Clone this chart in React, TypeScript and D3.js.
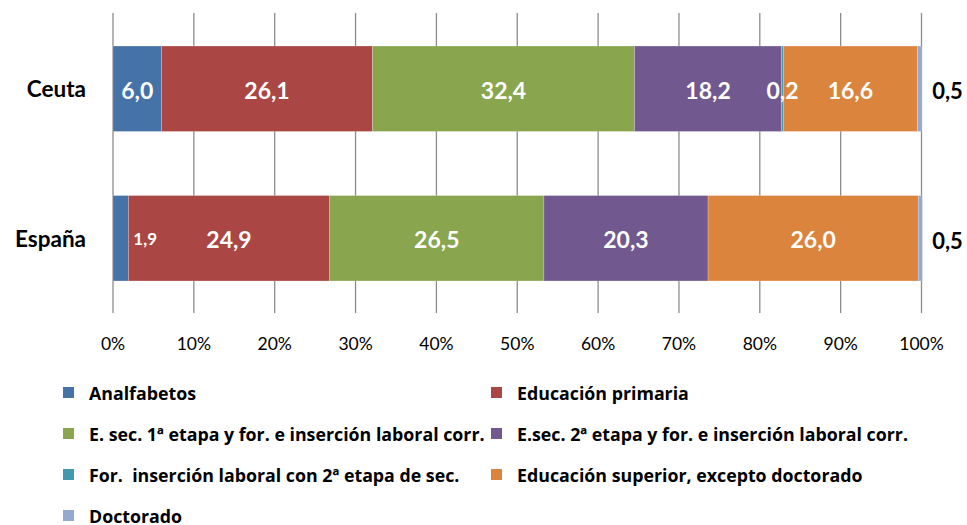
import React from "react";
import * as d3 from "d3";

const categories = ["Ceuta", "España"];
const seriesNames = [
  "Analfabetos",
  "Educación primaria",
  "E. sec. 1ª etapa y for. e inserción laboral corr.",
  "E.sec. 2ª etapa y for. e inserción laboral corr.",
  "For.  inserción laboral con 2ª etapa de sec.",
  "Educación superior, excepto doctorado",
  "Doctorado",
];
const ceutaValues = [6.0, 26.1, 32.4, 18.2, 0.2, 16.6, 0.5];
const espanaValues = [1.9, 24.9, 26.5, 20.3, 0.0, 26.0, 0.5];
const xTicks = [0, 10, 20, 30, 40, 50, 60, 70, 80, 90, 100];
const colors = ["#4572A7", "#AA4643", "#89A54E", "#71588F", "#4198AF", "#DB843D", "#93A9CF"];

const W = 967;
const H = 525;
const FONT = "Lato, 'Open Sans', sans-serif";
const LEGEND_FONT = "'Open Sans', Lato, sans-serif";

const fmt = (v: number) => v.toFixed(1).replace(".", ",");

export default function App() {
  const x = d3.scaleLinear().domain([0, 100]).range([113, 921.5]);
  const y = d3
    .scaleBand<string>()
    .domain(categories)
    .range([14, 313])
    .paddingInner(0.75 / 1.75)
    .paddingOuter(0.375 / 1.75);

  const rows = [ceutaValues, espanaValues];
  const stacked = rows.map((vals) => {
    let acc = 0;
    return vals.map((v, i) => {
      const s = { x0: acc, x1: acc + v, v, i };
      acc += v;
      return s;
    });
  });

  const legendRows = [
    [0, 1],
    [2, 3],
    [4, 5],
    [6],
  ];
  const legendColX = [63, 491];
  const legendY0 = 393;
  const legendDy = 41;

  return (
    <svg
      width={W}
      height={H}
      style={{ position: "absolute", left: 0, top: 0, background: "#fff" }}
      fontFamily={FONT}
    >
      {/* gridlines */}
      {xTicks.map((t) => (
        <line
          key={"g" + t}
          x1={x(t)}
          x2={x(t)}
          y1={13}
          y2={313}
          stroke="#8c8c8c"
          strokeWidth={1.3}
        />
      ))}
      {/* bars */}
      {categories.map((c, ci) => {
        const by = y(c)!;
        const bh = y.bandwidth();
        return (
          <g key={c}>
            {stacked[ci].map((s) =>
              s.v > 0 ? (
                <rect
                  key={s.i}
                  x={x(s.x0)}
                  y={by}
                  width={x(s.x1) - x(s.x0)}
                  height={bh}
                  fill={colors[s.i]}
                  stroke="#ffffff"
                  strokeOpacity={0.35}
                  strokeWidth={0.6}
                />
              ) : null
            )}
          </g>
        );
      })}
      {/* labels */}
      {categories.map((c, ci) => {
        const cy = y(c)! + y.bandwidth() / 2;
        return (
          <g key={"l" + c}>
            <text
              x={86}
              y={cy}
              textAnchor="end"
              dominantBaseline="central"
              fontWeight="bold"
              fontSize={22.5}
              fill="#000"
            >
              {c}
            </text>
            {stacked[ci].map((s) => {
              if (s.v <= 0) return null;
              if (s.i === 6) {
                return (
                  <text
                    key={s.i}
                    x={x(100) + 26}
                    y={cy + 2}
                    textAnchor="middle"
                    dominantBaseline="central"
                    fontWeight="bold"
                    fontSize={22}
                    fill="#000"
                  >
                    {fmt(s.v)}
                  </text>
                );
              }
              const w = x(s.x1) - x(s.x0);
              if (w < 20 && s.i === 0) {
                return (
                  <text
                    key={s.i}
                    x={x(s.x1) + 5}
                    y={cy}
                    textAnchor="start"
                    dominantBaseline="central"
                    fontWeight="bold"
                    fontSize={17}
                    fill="#fff"
                  >
                    {fmt(s.v)}
                  </text>
                );
              }
              return (
                <text
                  key={s.i}
                  x={(x(s.x0) + x(s.x1)) / 2}
                  y={cy + 1}
                  textAnchor="middle"
                  dominantBaseline="central"
                  fontWeight="bold"
                  fontSize={23}
                  fill="#fff"
                >
                  {fmt(s.v)}
                </text>
              );
            })}
          </g>
        );
      })}
      {/* x tick labels */}
      {xTicks.map((t) => (
        <text
          key={"t" + t}
          x={x(t)}
          y={343}
          textAnchor="middle"
          dominantBaseline="central"
          fontSize={17.5}
          fill="#000"
        >
          {t + "%"}
        </text>
      ))}
      {/* legend */}
      {legendRows.map((row, ri) =>
        row.map((si, ci) => {
          const lx = legendColX[ci];
          const ly = legendY0 + ri * legendDy;
          return (
            <g key={"lg" + si}>
              <rect x={lx} y={ly - 6} width={11} height={11} fill={colors[si]} />
              <text
                x={lx + 26}
                y={ly}
                dominantBaseline="central"
                fontWeight="bold"
                fontSize={17.8}
                fontFamily={LEGEND_FONT}
                fill="#000"
                style={{ whiteSpace: "pre" }}
              >
                {seriesNames[si]}
              </text>
            </g>
          );
        })
      )}
    </svg>
  );
}
